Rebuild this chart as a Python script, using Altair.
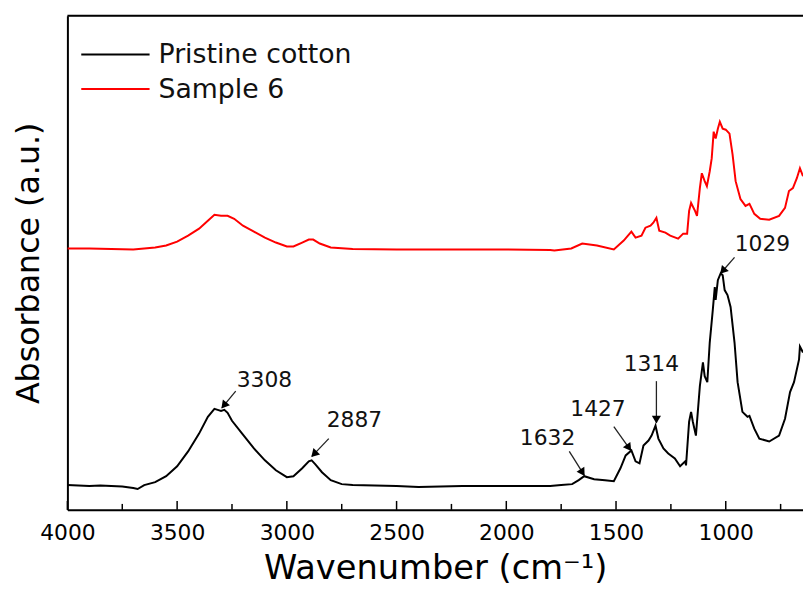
import math
import altair as alt
import pandas as pd

# ---------------- data ----------------
black_wn = [4000, 3950, 3900, 3850, 3800, 3750, 3700, 3680, 3650, 3600, 3550, 3500, 3450, 3400, 3360,
            3330, 3315, 3300, 3285, 3270, 3250, 3200, 3150, 3100, 3050, 3000, 2970, 2930, 2900, 2887,
            2870, 2840, 2800, 2750, 2700, 2600, 2500, 2400, 2300, 2200, 2100, 2000, 1900, 1800, 1750,
            1700, 1670, 1645, 1600, 1550, 1510, 1480, 1456, 1430, 1411, 1393, 1375, 1352, 1338, 1320,
            1307, 1284, 1262, 1232, 1208, 1185, 1181, 1167, 1158, 1150, 1136, 1118, 1104, 1096, 1084,
            1073, 1059, 1050, 1046, 1036, 1023, 1014, 1005, 992, 978, 960, 946, 924, 901, 892, 870,
            847, 802, 757, 730, 707, 689, 666, 662, 648]
black_abs = [25, 24.5, 24, 24.5, 24, 23.5, 22, 21, 25, 28, 34, 44, 59, 77, 94,
             102, 101, 100, 101, 98, 90, 76, 62, 50, 40, 33, 34, 42, 49, 50,
             46, 38, 30, 26, 25, 24.5, 24, 23, 23.5, 24, 24, 24, 24, 24, 25,
             26, 30, 34, 31, 30, 29, 42, 55, 60, 49, 47, 65, 70, 75, 85,
             72, 62, 57, 52, 44, 49, 45, 89, 99, 89, 75, 125, 149, 135, 129,
             169, 202, 225, 212, 232, 239, 237, 222, 217, 205, 169, 129, 99, 94, 95, 82,
             72, 69, 75, 92, 119, 129, 152, 165, 159]

red_wn = [4000, 3900, 3800, 3700, 3650, 3600, 3550, 3500, 3450, 3400, 3360, 3330, 3300, 3270, 3240,
          3200, 3150, 3100, 3050, 3000, 2970, 2930, 2900, 2880, 2850, 2800, 2700, 2500, 2300, 2000,
          1800, 1781, 1704, 1654, 1587, 1510, 1465, 1430, 1411, 1384, 1366, 1343, 1330, 1316, 1303,
          1275, 1253, 1217, 1194, 1176, 1167, 1158, 1140, 1131, 1118, 1109, 1096, 1086, 1073, 1064,
          1055, 1046, 1036, 1027, 1014, 1000, 983, 969, 955, 933, 910, 892, 870, 843, 802, 757,
          730, 712, 694, 676, 662, 648]
red_abs = [264, 264, 263.5, 263, 264, 265, 267, 271, 277, 284, 292, 298, 297, 297, 294,
           287, 281, 275, 270, 266, 266, 270, 273, 273, 269, 265, 263.5, 263, 263, 263,
           262.5, 262, 264, 269, 267, 263, 272, 281, 275, 277, 285, 287, 290, 295, 282,
           280, 277, 274, 279, 279, 302, 310, 302, 297, 325, 340, 332, 327, 342, 355,
           382, 375, 385, 392, 385, 384, 380, 359, 332, 314, 307, 309, 299, 294, 293, 297,
           305, 322, 325, 335, 345, 337]

series_names = ["Pristine cotton", "Sample 6"]
series_colors = ["#000000", "#ff0000"]

major_ticks = [4000, 3500, 3000, 2500, 2000, 1500, 1000]
minor_ticks = [3750, 3250, 2750, 2250, 1750, 1250, 750]

peak_labels = ["3308", "2887", "1632", "1427", "1314", "1029"]
label_wn = [3102, 2692, 1812, 1582, 1339, 833]
label_abs = [131, 91, 73, 102, 147, 268]
arrow_from_wn = [3233, 2809, 1713, 1510, 1316, 960]
arrow_from_abs = [120, 72, 59, 84, 130, 255]
arrow_to_wn = [3296, 2886, 1645, 1433, 1316, 1023]
arrow_to_abs = [103, 54, 35, 60, 88, 239]

# ---------------- layout ----------------
W, H = 743, 499
X_DOMAIN = [4000, 648]
Y_DOMAIN = [0, 499]
FONT = "DejaVu Sans"

xscale = alt.Scale(domain=X_DOMAIN, nice=False, zero=False)
yscale = alt.Scale(domain=Y_DOMAIN, nice=False, zero=False)

xaxis = alt.Axis(values=major_ticks, format="d", ticks=False, tickSize=0,
                 labelFont=FONT, labelFontSize=22, labelColor="#000",
                 labelPadding=13, labelFlush=False, grid=False,
                 domainColor="#000", domainWidth=2,
                 title="Wavenumber (cm⁻¹)", titleFont=FONT, titleFontSize=34,
                 titleFontWeight="normal", titleColor="#000", titlePadding=8)
yaxis = alt.Axis(labels=False, ticks=False, grid=False,
                 domainColor="#000", domainWidth=2,
                 title="Absorbance (a.u.)", titleFont=FONT, titleFontSize=32,
                 titleFontWeight="normal", titleColor="#000", titlePadding=22)


def X(field):
    return alt.X(field, scale=xscale, axis=xaxis, title="Wavenumber (cm⁻¹)")


def Y(field):
    return alt.Y(field, scale=yscale, axis=yaxis, title="Absorbance (a.u.)")


df = pd.concat([
    pd.DataFrame({"wn": black_wn, "abs": black_abs, "series": series_names[0]}),
    pd.DataFrame({"wn": red_wn, "abs": red_abs, "series": series_names[1]}),
])

lines = alt.Chart(df).mark_line(strokeWidth=2, clip=True).encode(
    x=X("wn:Q"),
    y=Y("abs:Q"),
    color=alt.Color("series:N", scale=alt.Scale(domain=series_names, range=series_colors), legend=None),
    detail="series:N",
)

# inward ticks on the bottom axis
major_df = pd.DataFrame({"t": major_ticks})
minor_df = pd.DataFrame({"t": minor_ticks})
major_rules = alt.Chart(major_df).mark_rule(color="#000", strokeWidth=1.5).encode(
    x=X("t:Q"), y=alt.value(H), y2=alt.value(H - 9))
minor_rules = alt.Chart(minor_df).mark_rule(color="#000", strokeWidth=1.5).encode(
    x=X("t:Q"), y=alt.value(H), y2=alt.value(H - 6))

top_border = alt.Chart(pd.DataFrame({"a": [0]})).mark_rule(color="#000", strokeWidth=2).encode(
    x=alt.value(0), x2=alt.value(W), y=alt.value(0))

# annotations
k = W / (X_DOMAIN[0] - X_DOMAIN[1])
ky = H / (Y_DOMAIN[1] - Y_DOMAIN[0])
r = 4.5
head_wn, head_abs, head_ang = [], [], []
for fw, fa, tw, ta in zip(arrow_from_wn, arrow_from_abs, arrow_to_wn, arrow_to_abs):
    dx = -(tw - fw) * k
    dy = -(ta - fa) * ky
    L = math.hypot(dx, dy)
    ux, uy = dx / L, dy / L
    tip_x = (X_DOMAIN[0] - tw) * k
    tip_y = H - (ta - Y_DOMAIN[0]) * ky
    hx, hy = tip_x - r * ux, tip_y - r * uy
    head_wn.append(X_DOMAIN[0] - hx / k)
    head_abs.append(Y_DOMAIN[0] + (H - hy) / ky)
    head_ang.append(math.degrees(math.atan2(dx, -dy)) % 360)

ann = pd.DataFrame({
    "label": peak_labels, "lw": label_wn, "la": label_abs,
    "fw": arrow_from_wn, "fa": arrow_from_abs, "tw": arrow_to_wn, "ta": arrow_to_abs,
    "hw": head_wn, "ha": head_abs, "ang": head_ang,
})

ann_text = alt.Chart(ann).mark_text(font=FONT, fontSize=22, color="#111", align="center",
                                    baseline="middle").encode(
    x=X("lw:Q"), y=Y("la:Q"), text="label:N")
ann_line = alt.Chart(ann).mark_rule(color="#222", strokeWidth=1.3).encode(
    x=X("fw:Q"), y=Y("fa:Q"), x2="tw:Q", y2="ta:Q")
ann_head = alt.Chart(ann).mark_point(shape="triangle", filled=True, color="#000", size=85,
                                     opacity=1).encode(
    x=X("hw:Q"), y=Y("ha:Q"), angle=alt.Angle("ang:Q", scale=None))

# manual legend
legend_layers = []
for i, (name, col) in enumerate(zip(series_names, series_colors)):
    yy = 39 + 35 * i
    one = pd.DataFrame({"name": [name]})
    legend_layers.append(alt.Chart(one).mark_rule(color=col, strokeWidth=2).encode(
        x=alt.value(14), x2=alt.value(83), y=alt.value(yy)))
    legend_layers.append(alt.Chart(one).mark_text(font=FONT, fontSize=27, color="#111", align="left",
                                                  baseline="middle").encode(
        x=alt.value(92), y=alt.value(yy + 1), text="name:N"))

chart = alt.layer(lines, major_rules, minor_rules, top_border, ann_line, ann_head, ann_text,
                  *legend_layers).properties(
    width=W, height=H,
    autosize=alt.AutoSizeParams(type="none"),
    padding={"left": 60, "top": 5, "right": 0, "bottom": 74},
).configure_view(stroke=None).configure(background="white")

chart.save("out.html", embed_options={"renderer": "svg", "actions": False})
